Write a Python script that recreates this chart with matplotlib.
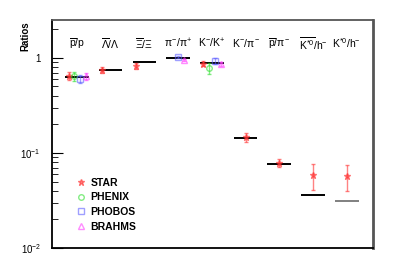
import numpy as np
import matplotlib
matplotlib.use("Agg")
import matplotlib.pyplot as plt
from matplotlib.lines import Line2D

plt.rcParams["font.family"] = ["Liberation Sans", "DejaVu Sans"]
plt.rcParams["mathtext.fontset"] = "custom"
plt.rcParams["mathtext.rm"] = "Liberation Sans"
plt.rcParams["mathtext.it"] = "Liberation Sans"

# Ratio categories
labels = [r"$\overline{\mathrm{p}}$/p", r"$\overline{\Lambda}/\Lambda$", r"$\overline{\Xi}/\Xi$",
          r"$\pi^{-}/\pi^{+}$", r"K$^{-}$/K$^{+}$", r"K$^{-}$/$\pi^{-}$",
          r"$\overline{\mathrm{p}}/\pi^{-}$", r"$\overline{\mathrm{K}^{*0}}$/h$^{-}$", r"K$^{*0}$/h$^{-}$"]

# Model (horizontal bars)
model = [0.63, 0.75, 0.91, 1.0, 0.89, 0.143, 0.077, 0.036, 0.031]
model_color = ["black"] * 8 + ["grey"]

# Experimental data: category index, value, error
star_idx = [0, 1, 2, 4, 5, 6, 7, 8]
star_val = [0.65, 0.75, 0.82, 0.87, 0.146, 0.079, 0.059, 0.057]
star_err = [0.06, 0.06, 0.06, 0.05, 0.015, 0.008, 0.018, 0.017]

phenix_idx = [0, 4]
phenix_val = [0.64, 0.78]
phenix_err = [0.07, 0.10]

phobos_idx = [0, 3, 4]
phobos_val = [0.60, 1.02, 0.93]
phobos_err = [0.06, 0.03, 0.06]

brahms_idx = [0, 3, 4]
brahms_val = [0.64, 0.95, 0.87]
brahms_err = [0.06, 0.03, 0.04]

fig = plt.figure(figsize=(4.15, 2.74), dpi=100)
ax = fig.add_axes([52 / 415, 1 - 248 / 274, 321 / 415, 228 / 274])

x = np.arange(len(labels))
for xi, m, c in zip(x, model, model_color):
    ax.hlines(m, xi - 0.35, xi + 0.35, color=c, lw=1.4, zorder=2)

sets = [
    ("STAR", star_idx, star_val, star_err, "*", "#ff3030", -0.25, True),
    ("PHENIX", phenix_idx, phenix_val, phenix_err, "o", "#30e030", -0.08, False),
    ("PHOBOS", phobos_idx, phobos_val, phobos_err, "s", "#6060ff", 0.1, False),
    ("BRAHMS", brahms_idx, brahms_val, brahms_err, "^", "#ff40ff", 0.28, False),
]
handles = []
for name, idx, val, err, mk, col, off, filled in sets:
    xs = np.array(idx, dtype=float)
    if name == "STAR":
        xs = np.where(xs >= 5, xs, xs + off)
    elif name == "PHOBOS":
        xs = np.where(xs == 3, xs, xs + off)
    elif name == "BRAHMS":
        xs = np.where(xs == 3, xs + 0.18, xs + off)
    else:
        xs = xs + off
    ms = 5 if mk == "*" else 4
    ax.errorbar(xs, val, yerr=err, fmt=mk, color=col, alpha=0.6, ms=ms,
                mfc=col if filled else "none", mec=col, elinewidth=1, capsize=1.5,
                mew=1, zorder=3)
    handles.append(Line2D([], [], ls="none", marker=mk, ms=ms, color=col, alpha=0.6,
                          mfc=col if filled else "none", mec=col, mew=1, label=name))

ax.set_yscale("log")
ax.set_ylim(0.01, 2.5)
ax.set_xlim(-0.74, 8.78)
ax.set_xticks([])
ax.set_yticks([0.01, 0.1, 1])
ax.set_yticklabels([r"10$^{-2}$", r"10$^{-1}$", "1"], fontsize=7)
ax.tick_params(axis="y", which="major", length=8, direction="in", pad=8)
ax.tick_params(axis="y", which="minor", length=4, direction="in")
for s in ax.spines.values():
    s.set_linewidth(1.3)
ax.spines["top"].set_color("#555555")
ax.spines["right"].set_color("#555555")
ax.spines["right"].set_linewidth(2)

for xi, lab in zip(x, labels):
    ax.text(xi, 1.42, lab, ha="center", va="center", fontsize=7.5)

fig.text(25 / 415, 1 - 36 / 274, "Ratios", rotation=90, ha="center", va="center",
         fontsize=7, fontweight="bold")

ax.legend(handles=handles, loc="lower left", bbox_to_anchor=(0.045, 0.03), frameon=False,
          handletextpad=0.4, handlelength=1.0, labelspacing=0.45,
          prop={"weight": "bold", "size": 7.5})

plt.savefig("out.png", dpi=100)
